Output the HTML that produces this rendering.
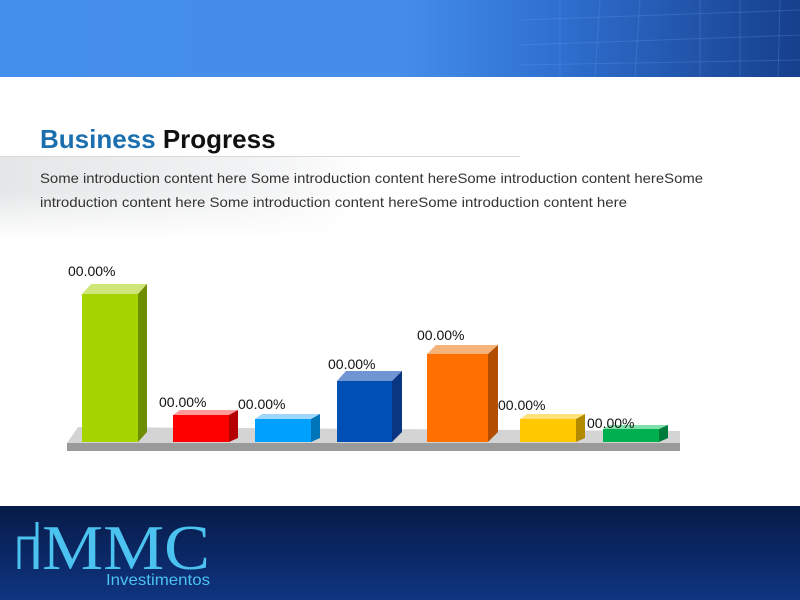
<!DOCTYPE html>
<html><head><meta charset="utf-8"><style>
body{margin:0;width:800px;height:600px;overflow:hidden;background:#fff;font-family:"Liberation Sans",sans-serif}
</style></head><body>
<svg width="800" height="600" xmlns="http://www.w3.org/2000/svg" style="position:absolute;left:0;top:0">
<defs>
<linearGradient id="hdr" x1="0" x2="1" y1="0" y2="0">
<stop offset="0" stop-color="#458fec"/><stop offset="0.5" stop-color="#448ee9"/><stop offset="0.7" stop-color="#2f6fcf"/><stop offset="1" stop-color="#163f8c"/></linearGradient>
<linearGradient id="ftr" x1="0" x2="0" y1="0" y2="1">
<stop offset="0" stop-color="#071b47"/><stop offset="1" stop-color="#0f3481"/></linearGradient>
<linearGradient id="band" x1="0" x2="1" y1="0" y2="0">
<stop offset="0" stop-color="#e4e6e7"/><stop offset="0.5" stop-color="#f3f4f5"/><stop offset="0.68" stop-color="#fff"/></linearGradient>
<linearGradient id="bandv" x1="0" x2="0" y1="0" y2="1">
<stop offset="0" stop-color="#fff" stop-opacity="0"/><stop offset="1" stop-color="#fff" stop-opacity="1"/></linearGradient>
</defs>
<rect x="0" y="0" width="800" height="77" fill="url(#hdr)"/>
<g stroke="#6fa3ea" stroke-opacity="0.25" stroke-width="1">
<line x1="560" y1="0" x2="560" y2="77"/><line x1="600" y1="0" x2="595" y2="77"/><line x1="640" y1="0" x2="635" y2="77"/><line x1="700" y1="0" x2="700" y2="77"/><line x1="740" y1="0" x2="740" y2="77"/><line x1="780" y1="0" x2="778" y2="77"/>
<line x1="520" y1="20" x2="800" y2="10"/><line x1="520" y1="45" x2="800" y2="35"/><line x1="520" y1="65" x2="800" y2="60"/>
</g>
<rect x="0" y="157" width="540" height="80" fill="url(#band)"/>
<rect x="0" y="190" width="540" height="50" fill="url(#bandv)"/>
<line x1="0" y1="156.5" x2="520" y2="156.5" stroke="#d6d8da"/>
<text x="40" y="148" font-size="26" font-weight="bold" fill="#1b6fae">Business <tspan fill="#111">Progress</tspan></text>
<text x="40" y="183" font-size="14" fill="#333" textLength="663" lengthAdjust="spacingAndGlyphs">Some introduction content here Some introduction content hereSome introduction content hereSome</text>
<text x="40" y="207" font-size="14" fill="#333" textLength="587" lengthAdjust="spacingAndGlyphs">introduction content here Some introduction content hereSome introduction content here</text>
<!-- platform -->
<polygon points="78,427 680,431 680,443 67,443" fill="#d4d4d4"/>
<rect x="67" y="443" width="613" height="8" fill="#9a9a9a"/>
<g>
<polygon points="82,294 91,284 147,284 138,294" fill="#cfe57a"/><polygon points="138,294 147,284 147,432 138,442" fill="#6d8e00"/><rect x="82" y="294" width="56" height="148" fill="#a6d400"/>
<polygon points="173,415 180,410 238,410 229,415" fill="#ff9a9a"/><polygon points="229,415 238,410 238,438 229,442" fill="#b50000"/><rect x="173" y="415" width="56" height="27" fill="#ff0000"/>
<polygon points="255,419 262,414 320,414 311,419" fill="#9fd8ff"/><polygon points="311,419 320,414 320,438 311,442" fill="#0074b8"/><rect x="255" y="419" width="56" height="23" fill="#00a0ff"/>
<polygon points="337,381 346,371 402,371 392,381" fill="#6f95d3"/><polygon points="392,381 402,371 402,432 392,442" fill="#0a3580"/><rect x="337" y="381" width="55" height="61" fill="#004fb4"/>
<polygon points="427,354 436,345 498,345 488,354" fill="#f6b37a"/><polygon points="488,354 498,345 498,432 488,442" fill="#b34e00"/><rect x="427" y="354" width="61" height="88" fill="#ff7000"/>
<polygon points="520,419 527,414 585,414 576,419" fill="#ffe27a"/><polygon points="576,419 585,414 585,438 576,442" fill="#b38a00"/><rect x="520" y="419" width="56" height="23" fill="#ffc800"/>
<polygon points="603,429 610,425 668,425 659,429" fill="#7fe0a9"/><polygon points="659,429 668,425 668,438 659,442" fill="#007c3a"/><rect x="603" y="429" width="56" height="13" fill="#00b050"/>
</g>
<g font-size="14" fill="#111">
<text x="68" y="276">00.00%</text><text x="159" y="407">00.00%</text><text x="238" y="409">00.00%</text><text x="328" y="369">00.00%</text><text x="417" y="340">00.00%</text><text x="498" y="410">00.00%</text><text x="587" y="428">00.00%</text>
</g>
<rect x="0" y="506" width="800" height="94" fill="url(#ftr)"/>
<polyline points="19,569 19,538 35,538 35,569" fill="none" stroke="#4cc2f0" stroke-width="3"/>
<polyline points="37,569 37,522" fill="none" stroke="#4cc2f0" stroke-width="3"/>
<text x="42" y="569" font-family="Liberation Serif,serif" font-size="64" fill="#4cc2f0" textLength="168" lengthAdjust="spacingAndGlyphs">MMC</text>
<text x="106" y="585" font-size="16" fill="#4cc2f0" textLength="104" lengthAdjust="spacingAndGlyphs">Investimentos</text>
</svg>
</body></html>
